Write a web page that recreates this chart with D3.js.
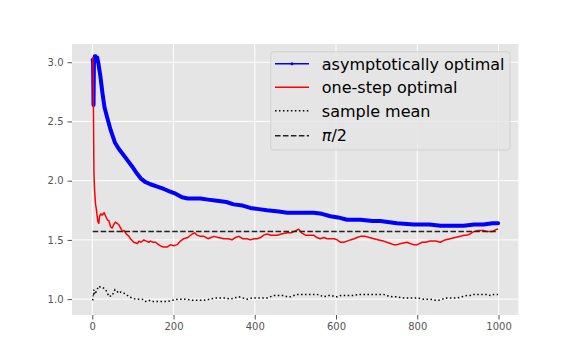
<!DOCTYPE html>
<html>
<head>
<meta charset="utf-8">
<script src="https://cdn.jsdelivr.net/npm/d3@7"></script>
<style>
  html, body { margin: 0; padding: 0; background: #fff; }
  svg { display: block; font-family: "DejaVu Sans", sans-serif; }
</style>
</head>
<body>
<svg id="chart" width="576" height="360"></svg>
<script>
// ---------- data ----------
const asymN = [1,2,3,4,5,6,8,10,12,15,20,25,30,37,45,56,65,74,85,98,110,119,130,143,160,176,190,205,221,235,266,285,307,330,348,370,389,410,430,459,480,520,545,565,586,605,627,660,690,709,750,791,830,857,890,914,940,963,985,999];
const asymV = [3.02,3.00,2.64,2.98,3.03,3.05,3.05,3.03,3.04,2.99,2.88,2.74,2.62,2.53,2.43,2.32,2.27,2.23,2.18,2.12,2.06,2.02,1.99,1.97,1.95,1.93,1.91,1.89,1.86,1.85,1.85,1.84,1.83,1.82,1.80,1.79,1.77,1.76,1.75,1.74,1.73,1.73,1.73,1.72,1.70,1.69,1.67,1.67,1.66,1.66,1.64,1.63,1.63,1.62,1.62,1.62,1.63,1.63,1.64,1.64];

const oneStepN = [1,2,3,4,5,6,8,10,12,14,16,18,21,25,29,33,37,41,45,49,53,57,61,65,70,74,78,84,90,94,102,111,115,120,127,133,139,143,150,156,163,168,175,184,193,200,209,217,225,235,246,252,258,266,275,285,292,299,310,324,335,344,352,361,370,381,389,398,406,414,422,430,440,447,455,465,480,490,496,508,515,525,535,545,553,561,570,578,586,595,603,611,619,627,635,645,652,660,672,682,693,705,717,725,734,742,750,760,775,782,791,800,812,820,832,845,857,868,881,893,906,915,922,930,939,950,963,972,984,990,996,999];
const oneStepV = [3.04,2.95,2.50,2.08,1.97,1.90,1.80,1.76,1.70,1.65,1.64,1.70,1.72,1.71,1.73,1.70,1.67,1.66,1.61,1.60,1.63,1.65,1.64,1.63,1.60,1.57,1.58,1.55,1.53,1.51,1.48,1.47,1.49,1.48,1.50,1.49,1.48,1.49,1.48,1.48,1.46,1.45,1.44,1.44,1.46,1.45,1.46,1.49,1.51,1.52,1.55,1.56,1.54,1.53,1.53,1.51,1.52,1.53,1.52,1.51,1.51,1.50,1.52,1.53,1.51,1.51,1.50,1.51,1.51,1.52,1.54,1.55,1.54,1.54,1.54,1.55,1.56,1.56,1.57,1.59,1.56,1.54,1.54,1.54,1.52,1.51,1.52,1.51,1.51,1.51,1.50,1.48,1.48,1.49,1.50,1.51,1.52,1.53,1.53,1.52,1.51,1.50,1.49,1.48,1.47,1.46,1.46,1.47,1.48,1.47,1.46,1.46,1.48,1.48,1.49,1.49,1.48,1.50,1.51,1.52,1.53,1.54,1.54,1.55,1.57,1.58,1.58,1.57,1.57,1.58,1.59,1.59];

const meanN = [1,2,3,4,6,8,10,13,16,20,25,29,33,37,42,46,49,53,56,60,65,70,78,84,90,98,106,115,123,131,139,147,160,172,185,197,213,229,246,262,275,291,303,316,328,340,350,361,370,381,394,406,418,430,447,460,471,480,488,496,504,520,537,553,562,570,580,590,597,603,611,619,635,643,656,670,684,698,709,717,725,738,750,762,775,787,799,815,832,845,852,862,873,885,898,910,922,930,939,950,963,972,980,988,996,999];
const meanV = [0.99,1.03,1.02,1.08,1.04,1.05,1.07,1.09,1.11,1.10,1.10,1.09,1.08,1.05,1.02,1.03,1.03,1.06,1.08,1.07,1.05,1.06,1.05,1.04,1.02,1.01,1.00,1.00,1.00,0.98,0.99,0.98,0.98,0.98,0.98,0.99,1.00,1.00,0.99,0.99,0.99,1.00,1.01,1.01,1.01,1.00,1.01,1.02,1.01,1.00,1.01,1.01,1.01,1.01,1.03,1.03,1.03,1.02,1.02,1.03,1.04,1.04,1.04,1.04,1.03,1.02,1.03,1.03,1.02,1.02,1.03,1.03,1.03,1.03,1.04,1.04,1.04,1.04,1.04,1.04,1.03,1.02,1.02,1.01,1.01,1.01,1.01,1.00,1.00,0.99,0.99,1.00,1.01,1.01,1.01,1.02,1.03,1.03,1.04,1.04,1.04,1.04,1.03,1.04,1.04,1.04];

const halfPi = Math.PI / 2;
const refN = [1, 999];

const xTicks = [0, 200, 400, 600, 800, 1000];
const yTicks = [1.0, 1.5, 2.0, 2.5, 3.0];
const legendLabels = ["asymptotically optimal", "one-step optimal", "sample mean", "π/2"];

// ---------- layout ----------
const svg = d3.select("#chart");
const L = 72, R = 518.4, T = 44, B = 315;

const x = d3.scaleLinear().domain([-49.95, 1048.95]).range([L, R]);
const y = d3.scaleLinear().domain([0.866, 3.154]).range([B, T]);

svg.append("rect").attr("x", L).attr("y", T).attr("width", R - L).attr("height", B - T).attr("fill", "#E5E5E5");

// grid
const grid = svg.append("g");
grid.selectAll("line.gx").data(xTicks).enter().append("line")
  .attr("x1", d => x(d)).attr("x2", d => x(d)).attr("y1", T).attr("y2", B)
  .attr("stroke", "#fff").attr("stroke-width", 1);
grid.selectAll("line.gy").data(yTicks).enter().append("line")
  .attr("x1", L).attr("x2", R).attr("y1", d => y(d)).attr("y2", d => y(d))
  .attr("stroke", "#fff").attr("stroke-width", 1);

// axes
const xAxis = d3.axisBottom(x).tickValues(xTicks).tickFormat(d3.format("d")).tickSize(4.5).tickPadding(3);
const yAxis = d3.axisLeft(y).tickValues(yTicks).tickFormat(d3.format(".1f")).tickSize(4.5).tickPadding(4);
const gx = svg.append("g").attr("transform", `translate(0,${B})`).call(xAxis);
const gy = svg.append("g").attr("transform", `translate(${L},0)`).call(yAxis);
[gx, gy].forEach(g => {
  g.select(".domain").remove();
  g.selectAll(".tick line").attr("stroke", "#555").attr("stroke-width", 1);
  g.selectAll(".tick text").attr("fill", "#555").attr("font-size", 10).attr("font-family", "DejaVu Sans");
});

// series
const clip = svg.append("clipPath").attr("id", "clip").append("rect")
  .attr("x", L).attr("y", T).attr("width", R - L).attr("height", B - T);
const plot = svg.append("g").attr("clip-path", "url(#clip)");

const mk = (ns, vs) => ns.map((n, i) => [n, vs[i]]);
const line = d3.line().x(d => x(d[0])).y(d => y(d[1]));

plot.append("path").datum(mk(asymN, asymV)).attr("d", line)
  .attr("fill", "none").attr("stroke", "#0000FF").attr("stroke-width", 4)
  .attr("stroke-linejoin", "round").attr("stroke-linecap", "round");
plot.append("path").datum(mk(oneStepN, oneStepV)).attr("d", line)
  .attr("fill", "none").attr("stroke", "#FF0000").attr("stroke-width", 1.5)
  .attr("stroke-linejoin", "round");
plot.append("path").datum(mk(meanN, meanV)).attr("d", line)
  .attr("fill", "none").attr("stroke", "#000").attr("stroke-width", 1.5)
  .attr("stroke-dasharray", "1.5,2.475");
plot.append("path").datum(refN.map(n => [n, halfPi])).attr("d", line)
  .attr("fill", "none").attr("stroke", "#222").attr("stroke-width", 1.5)
  .attr("stroke-dasharray", "5.55,2.4");

// legend
const lg = svg.append("g");
lg.append("rect").attr("x", 270.7).attr("y", 51.7).attr("width", 239.3).attr("height", 98.3)
  .attr("rx", 3).attr("ry", 3)
  .attr("fill", "#E5E5E5").attr("fill-opacity", 0.8)
  .attr("stroke", "#cccccc").attr("stroke-opacity", 0.8).attr("stroke-width", 1);

const rowY = [63.7, 87.3, 110.7, 135.7];
const baseY = [69.6, 93.2, 116.6, 141.4];
const styles = [
  {stroke: "#0000FF", dash: null},
  {stroke: "#FF0000", dash: null},
  {stroke: "#000", dash: "1.5,2.475"},
  {stroke: "#222", dash: "5.55,2.4"}
];
styles.forEach((s, i) => {
  const l = lg.append("line").attr("x1", 275).attr("x2", 309).attr("y1", rowY[i]).attr("y2", rowY[i])
    .attr("stroke", s.stroke).attr("stroke-width", 1.5);
  if (s.dash) l.attr("stroke-dasharray", s.dash);
});
lg.append("circle").attr("cx", 292).attr("cy", rowY[0]).attr("r", 1.5).attr("fill", "#0000FF");

legendLabels.forEach((t, i) => {
  const tx = lg.append("text").attr("x", 321.8).attr("y", baseY[i])
    .attr("font-size", 16).attr("fill", "#000").attr("font-family", "DejaVu Sans");
  if (t.startsWith("π")) {
    tx.append("tspan").attr("font-style", "italic").text("π");
    tx.append("tspan").text(t.slice(1));
  } else {
    tx.text(t);
  }
});
</script>
</body>
</html>
